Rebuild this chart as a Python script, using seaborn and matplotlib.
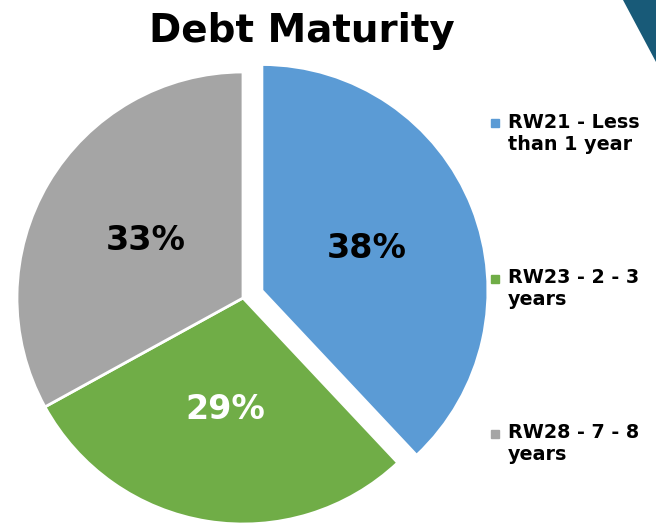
import matplotlib
matplotlib.use("Agg")
import matplotlib.pyplot as plt
from matplotlib.lines import Line2D
from matplotlib.patches import Polygon
import seaborn as sns

# Debt maturity split by bond
bonds = ["RW21 - Less\nthan 1 year", "RW23 - 2 - 3\nyears", "RW28 - 7 - 8\nyears"]
shares = [38, 29, 33]
slice_colors = ["#5B9BD5", "#70AD47", "#A5A5A5"]
pct_colors = ["black", "white", "black"]

sns.set_theme(style="white")
plt.rcParams["font.family"] = ["DejaVu Sans"]

W, H = 656, 523
fig = plt.figure(figsize=(W / 100, H / 100), dpi=100)
fig.patch.set_facecolor("white")

# corner accent
fig.patches.append(Polygon([(623 / W, 1.0), (1.0, 1.0), (1.0, 1 - 62 / H)],
                           closed=True, transform=fig.transFigure,
                           facecolor="#185A78", edgecolor="none"))

# pie axes: centre (243, 298) px, radius 226 px
cx, cy, r = 243, 298, 226
ax = fig.add_axes([(cx - r) / W, (H - cy - r) / H, 2 * r / W, 2 * r / H])
wedges, _, autotexts = ax.pie(
    shares,
    colors=slice_colors,
    explode=[0.09, 0, 0],
    startangle=90,
    counterclock=False,
    radius=1,
    autopct="%1.0f%%",
    pctdistance=0.5,
    wedgeprops=dict(edgecolor="white", linewidth=2),
    textprops=dict(fontsize=24, fontweight="bold"),
)
for t, c in zip(autotexts, pct_colors):
    t.set_color(c)
ax.set_xlim(-1, 1)
ax.set_ylim(-1, 1)
ax.set_aspect("equal")

fig.text(302 / W, 1 - 31 / H, "Debt Maturity", ha="center", va="center",
         fontsize=28, fontweight="bold", color="black")

handles = [Line2D([], [], linestyle="none", marker="s", markersize=5.8,
                  markerfacecolor=c, markeredgecolor=c) for c in slice_colors]
fig.legend(handles, bonds, loc="upper left",
           bbox_to_anchor=(491 / W, 1 - 106 / H),
           frameon=False, borderpad=0, borderaxespad=0,
           handlelength=0.4, handleheight=4.4, handletextpad=0.5,
           labelspacing=5.0, labelcolor="black",
           prop=dict(size=13.8, weight="bold"))

fig.savefig("out.png", dpi=100)
